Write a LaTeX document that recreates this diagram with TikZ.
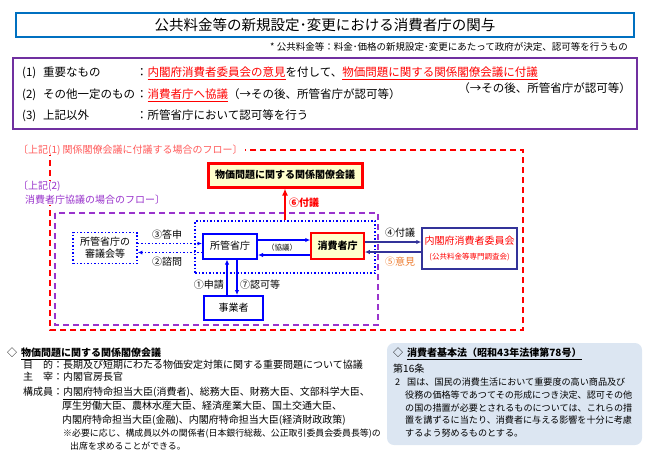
\documentclass[tikz,border=0pt]{standalone}
\usepackage{fontspec}
\setmainfont{Noto Sans CJK JP}
\usepackage{tikz}
\usetikzlibrary{positioning, arrows.meta}
\definecolor{titleblue}{HTML}{0070C0}
\definecolor{casepurple}{HTML}{7030A0}
\definecolor{flowred}{HTML}{FF0000}
\definecolor{capred}{HTML}{FF5B5B}
\definecolor{flowpurple}{HTML}{9933CC}
\definecolor{govblue}{HTML}{0000FF}
\definecolor{ccindigo}{HTML}{333399}
\definecolor{paleyellow}{HTML}{FFFFCC}
\definecolor{opinion}{HTML}{ED7D31}
\definecolor{lawblue}{HTML}{DCE6F2}
\def\govarrow{\draw[-{Latex[length=5pt,width=4.5pt]}, govblue, line width=1.5pt]}
\def\caaarrow{\draw[-{Latex[length=5pt,width=4.5pt]}, ccindigo, line width=1.5pt]}
\def\askarrow{\draw[-{Latex[length=4.5pt,width=4pt]}, govblue, line width=1.5pt, dotted]}
\newcommand\keyul[1]{{\color{flowred}\underline{#1}}}

\begin{document}
\begin{tikzpicture}[x=1pt, y=-1pt, every node/.style={inner sep=0pt},
    caseline/.style={anchor=base west, font=\fontsize{11.5}{14}\selectfont},
    bodyline/.style={anchor=base west, font=\fontsize{10}{12}\selectfont},
    lawline/.style={anchor=base west, font=\fontsize{9.1}{12}\selectfont}]
  \useasboundingbox (0,0) rectangle (650,459);

  % heading
  \node [draw=titleblue, line width=2pt, minimum width=618pt, minimum height=24pt,
         font=\fontsize{14.5}{17}\selectfont] (title) at (325,25) {公共料金等の新規設定･変更における消費者庁の関与};
  \node [anchor=base east, font=\fontsize{9.5}{11}\selectfont] (note) at (628,50.6) {* 公共料金等：料金･価格の新規設定･変更にあたって政府が決定、認可等を行うもの};

  % three cases
  \node [draw=casepurple, line width=2pt, minimum width=624pt, minimum height=71pt] (cases) at (325,93.5) {};
  \node [caseline] (n1) at (22,76.4) {(1)};
  \node [caseline] (k1) at (43,76.4) {重要なもの};
  \node [caseline] (c1) at (136,76.4) {：\keyul{内閣府消費者委員会の意見}を付して、\keyul{物価問題に関する関係閣僚会議に付議}};
  \node [caseline, anchor=base east] (after1) at (631,92.4) {（→その後、所管省庁が認可等）};
  \node [caseline] (n2) at (22,98.4) {(2)};
  \node [caseline] (k2) at (43,98.4) {その他一定のもの};
  \node [caseline] (c2) at (136,98.4) {：\keyul{消費者庁へ協議}（→その後、所管省庁が認可等）};
  \node [caseline] (n3) at (22,119.4) {(3)};
  \node [caseline] (k3) at (43,119.4) {上記以外};
  \node [caseline] (c3) at (136,119.4) {：所管省庁において認可等を行う};

  % flow frames
  \draw [flowred, line width=1.5pt, dash pattern=on 6pt off 4pt] (50,150) rectangle (523,330);
  \draw [flowpurple, line width=1.5pt, dash pattern=on 6pt off 4pt] (55,213) rectangle (378,325);
  \node [anchor=west, fill=white, inner xsep=2pt, text=capred] (cap1) at (16,150) {〔上記(1) 関係閣僚会議に付議する場合のフロー〕};
  \node [anchor=north west, fill=white, inner xsep=2pt, text=flowpurple, align=left,
         font=\fontsize{10}{14}\selectfont] (cap2) at (16,181) {〔上記(2)\\\hspace*{7pt}消費者庁協議の場合のフロー〕};

  % flow boxes
  \node [draw=govblue, dotted, line width=1.5pt, minimum width=180pt, minimum height=52pt] (group) at (285,247) {};
  \node [draw=govblue, dotted, line width=1.5pt, minimum width=64pt, minimum height=31pt,
         align=center, font=\fontsize{10}{12}\selectfont] (council) at (105,248) {所管省庁の\\審議会等};
  \node [draw=govblue, line width=2pt, minimum width=54pt, minimum height=25pt] (ministry) at (230,246) {所管省庁};
  \node [draw=flowred, fill=paleyellow, line width=1.5pt, minimum width=53pt, minimum height=26pt,
         font=\bfseries] (caa) at (337.5,246) {消費者庁};
  \node [draw=govblue, line width=2pt, minimum width=59pt, minimum height=24pt] (firm) at (233.5,308) {事業者};
  \node [draw=ccindigo, line width=1.5pt, minimum width=95pt, minimum height=41pt, align=center,
         text=flowred] (board) at (469.5,248.5) {内閣府消費者委員会\\[3pt]{\fontsize{7.5}{9}\selectfont (公共料金等専門調査会)}};
  \node [draw=flowred, fill=paleyellow, line width=3pt, minimum width=154pt, minimum height=24pt,
         font=\bfseries] (pricemtg) at (285,175) {物価問題に関する関係閣僚会議};

  % flow arrows
  \askarrow ([yshift=4.5pt]council.east) -- ([yshift=4.5pt]council.east -| ministry.west);
  \askarrow ([yshift=-4.5pt]council.east -| ministry.west) -- ([yshift=-4.5pt]council.east);
  \govarrow ([yshift=6pt]ministry.east) -- ([yshift=6pt]ministry.east -| caa.west);
  \govarrow ([yshift=-9pt]ministry.east -| caa.west) -- ([yshift=-9pt]ministry.east);
  \govarrow ([xshift=-3pt]ministry.south |- firm.north) -- ([xshift=-3pt]ministry.south);
  \govarrow ([xshift=7pt]ministry.south) -- ([xshift=7pt]ministry.south |- firm.north);
  \caaarrow ([yshift=4pt]caa.east) -- ([yshift=4pt]caa.east -| board.west);
  \caaarrow ([yshift=-6pt]caa.east -| board.west) -- ([yshift=-6pt]caa.east);
  \draw [-{Latex[length=7pt,width=6pt]}, flowred, line width=2.5pt] (group.north -| pricemtg.south) -- (pricemtg.south);

  % arrow labels
  \node (answer) at (167,235) {③答申};
  \node (inquiry) at (167,262) {②諮問};
  \node [font=\fontsize{7.5}{9}\selectfont] (consult) at (282,248) {（協議）};
  \node [anchor=east] (apply) at (224,285) {①申請};
  \node [anchor=west] (grant) at (240,285) {⑦認可等};
  \node [anchor=west, text=flowred, font=\bfseries] (refer) at (289,203) {⑥付議};
  \node (submit) at (400,233) {④付議};
  \node [text=opinion] (opinionlbl) at (400,262) {⑤意見};

  % price council notes
  \node [bodyline] (dia1) at (7,356.8) {◇};
  \node [bodyline, font=\fontsize{10}{12}\selectfont\bfseries] (pmhead) at (21,356.8) {\underline{物価問題に関する関係閣僚会議}};
  \node [bodyline] (purpose) at (23,368.8) {目　的：長期及び短期にわたる物価安定対策に関する重要問題について協議};
  \node [bodyline] (chair) at (23,380.8) {主　宰：内閣官房長官};
  \node [bodyline] (member) at (23,395.8) {構成員：\underline{内閣府特命担当大臣(消費者)}、総務大臣、財務大臣、文部科学大臣、};
  \node [bodyline] (member2) at (62,409.8) {厚生労働大臣、農林水産大臣、経済産業大臣、国土交通大臣、};
  \node [bodyline] (member3) at (62,423.8) {内閣府特命担当大臣(金融)、内閣府特命担当大臣(経済財政政策)};
  \node [lawline, font=\fontsize{8.9}{11}\selectfont] (extra) at (63,436.5) {※必要に応じ、構成員以外の関係者(日本銀行総裁、公正取引委員会委員長等)の};
  \node [lawline, font=\fontsize{8.9}{11}\selectfont] (extra2) at (70,449.5) {出席を求めることができる。};

  % consumer basic act
  \node [fill=lawblue, rounded corners=7pt, minimum width=255pt, minimum height=102pt] (lawbox) at (514.5,394) {};
  \node [bodyline] (dia2) at (393,356.8) {◇};
  \node [bodyline, font=\fontsize{10}{12}\selectfont\bfseries] (lawhead) at (407,356.8) {\underline{消費者基本法（昭和43年法律第78号）}};
  \node [bodyline] (article) at (393,372.8) {第16条};
  \node [lawline] (item) at (395,385.5) {2};
  \node [lawline] (law1) at (407,385.5) {国は、国民の消費生活において重要度の高い商品及び};
  \node [lawline] (law2) at (405,398.5) {役務の価格等であつてその形成につき決定、認可その他};
  \node [lawline] (law3) at (405,411.5) {の国の措置が必要とされるものについては、これらの措};
  \node [lawline] (law4) at (405,423.5) {置を講ずるに当たり、消費者に与える影響を十分に考慮};
  \node [lawline] (law5) at (405,436.5) {するよう努めるものとする。};
\end{tikzpicture}
\end{document}
